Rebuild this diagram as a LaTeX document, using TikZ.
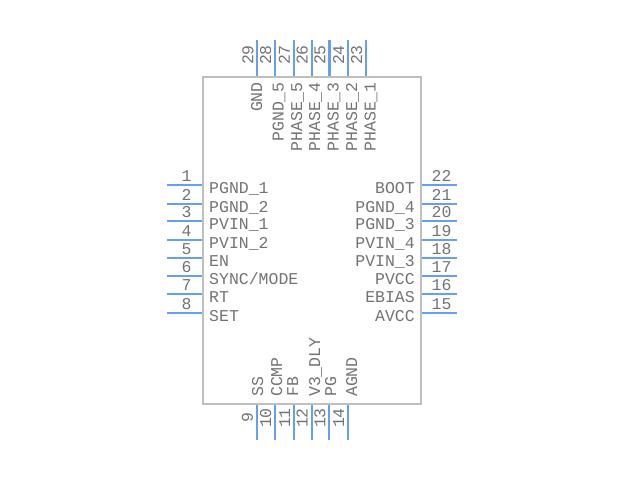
\documentclass[tikz,border=0pt]{standalone}
\usepackage{fontspec}
\setmainfont{Liberation Mono}
\begin{document}
\begin{tikzpicture}[x=1pt,y=-1pt]
        \tikzstyle{chip} = [rectangle, minimum width=218pt, minimum height=327pt, inner sep=0pt, draw=black!25, line width=2pt]
        \tikzstyle{pin} = [line width=2.2pt, draw={rgb,255:red,100;green,160;blue,240}]
        \tikzstyle{txt} = [inner sep=0pt, text=black!55, font=\fontsize{16.5}{16.5}\selectfont]
        \useasboundingbox (0,0) rectangle (640,480);

        \node (body) [chip] at (312,240.5) {};

        % left side
        \foreach \n/\y/\name in {1/185.3/PGND\_1, 2/203.7/PGND\_2, 3/221.3/PVIN\_1, 4/239.7/PVIN\_2, 5/258/EN, 6/276/{SYNC/MODE}, 7/294.3/RT, 8/312.7/SET} {
            \coordinate (lo\n) at (167,\y);
            \draw [pin] (lo\n) -- (body.west |- lo\n);
            \node (ln\n) [txt, anchor=base] at (186.5,\y-3.7) {\n};
            \node (lt\n) [txt, anchor=base west] at (209,\y+8.5) {\name};
        }
        % right side
        \foreach \n/\y/\name in {22/185.3/BOOT, 21/203.7/PGND\_4, 20/221.3/PGND\_3, 19/239.7/PVIN\_4, 18/258/PVIN\_3, 17/276/PVCC, 16/294.3/EBIAS, 15/312.7/AVCC} {
            \coordinate (ro\n) at (457,\y);
            \draw [pin] (ro\n) -- (body.east |- ro\n);
            \node (rn\n) [txt, anchor=base] at (441.5,\y-3.7) {\n};
            \node (rt\n) [txt, anchor=base east] at (415,\y+8.5) {\name};
        }
        % top side
        \foreach \n/\x/\bx/\name in {29/257.3/262/GND, 28/275/283.5/PGND\_5, 27/293.8/302/PHASE\_5, 26/311.7/320/PHASE\_4, 25/329.4/338.5/PHASE\_3, 24/348/357/PHASE\_2, 23/366/375.5/PHASE\_1} {
            \coordinate (to\n) at (\x,40);
            \draw [pin] (to\n) -- (body.north -| to\n);
            \node (tn\n) [txt, anchor=base, rotate=90] at (\x-4,55) {\n};
            \node (tt\n) [txt, anchor=base east, rotate=90] at (\bx,82) {\name};
        }
        % bottom side
        \foreach \n/\x/\bx/\name in {9/256.8/263/SS, 10/275/282/CCMP, 11/294/298/FB, 12/311.7/320/V3\_DLY, 13/329.3/336/PG, 14/348/357/AGND} {
            \coordinate (bo\n) at (\x,440);
            \draw [pin] (bo\n) -- (body.south -| bo\n);
            \node (bn\n) [txt, anchor=base, rotate=90] at (\x-4,418) {\n};
            \node (bt\n) [txt, anchor=base west, rotate=90] at (\bx,397) {\name};
        }
    \end{tikzpicture}
\end{document}
